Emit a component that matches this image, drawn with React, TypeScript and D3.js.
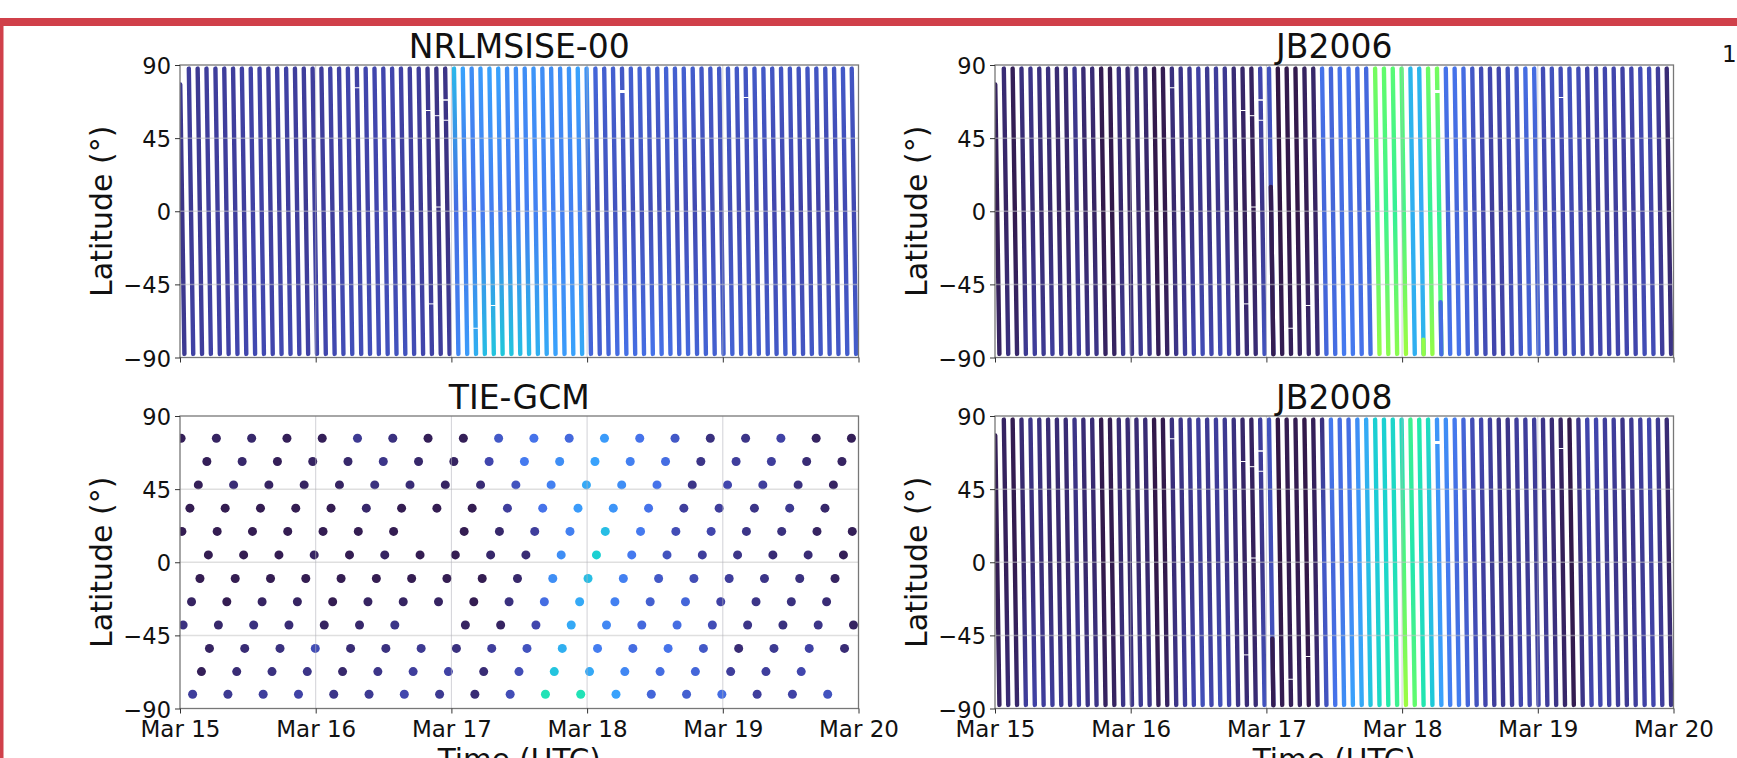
import React, { useRef, useEffect } from 'react';
import * as d3 from 'd3';

const tickDays = [0, 1, 2, 3, 4, 5];
const tickLabels = ['Mar 15', 'Mar 16', 'Mar 17', 'Mar 18', 'Mar 19', 'Mar 20'];
const latTicks = [-90, -45, 0, 45, 90];

// orbit time at the north end of each pass, days after Mar 15
const orbitTimes = [
  0, 0.065, 0.13, 0.195, 0.261, 0.326, 0.391, 0.456, 0.521, 0.586,
  0.651, 0.716, 0.782, 0.847, 0.912, 0.977, 1.042, 1.107, 1.172, 1.237,
  1.303, 1.368, 1.433, 1.498, 1.563, 1.628, 1.693, 1.759, 1.824, 1.889,
  1.954, 2.019, 2.084, 2.149, 2.214, 2.28, 2.345, 2.41, 2.475, 2.54,
  2.605, 2.67, 2.735, 2.801, 2.866, 2.931, 2.996, 3.061, 3.126, 3.191,
  3.257, 3.322, 3.387, 3.452, 3.517, 3.582, 3.647, 3.712, 3.778, 3.843,
  3.908, 3.973, 4.038, 4.103, 4.168, 4.233, 4.299, 4.364, 4.429, 4.494,
  4.559, 4.624, 4.689, 4.755, 4.82, 4.885, 4.95,
];

const nrlNorth = [
  .045, .05, .045, .05, .05, .05, .05, .055, .055, .055,
  .05, .055, .055, .05, .05, .05, .05, .055, .055, .06,
  .055, .06, .06, .06, .06, .055, .05, .05, .045, .04,
  .04, .23, .2, .17, .19, .2, .2, .17, .17, .17,
  .18, .17, .17, .17, .18, .2, .18, .11, .1, .1,
  .09, .1, .105, .1, .1, .105, .1, .1, .095, .09,
  .09, .09, .095, .09, .085, .09, .09, .085, .085, .085,
  .08, .085, .085, .085, .085, .09, .085,
];
const nrlMid = [
  .04, .045, .045, .05, .05, .05, .05, .05, .055, .055,
  .05, .05, .05, .05, .045, .05, .05, .05, .055, .055,
  .055, .055, .06, .06, .055, .05, .05, .045, .04, .035,
  .035, .12, .12, .13, .14, .145, .14, .14, .145, .145,
  .15, .15, .15, .15, .15, .15, .09, .075, .08, .08,
  .08, .075, .075, .07, .07, .08, .07, .07, .065, .07,
  .07, .065, .07, .065, .07, .065, .065, .06, .06, .06,
  .055, .055, .055, .055, .06, .065, .065,
];
const nrlSouth = [
  .045, .055, .05, .055, .055, .055, .06, .06, .065, .065,
  .06, .065, .065, .06, .055, .06, .06, .065, .07, .075,
  .07, .075, .075, .08, .08, .08, .07, .06, .055, .05,
  .05, .16, .19, .22, .24, .25, .255, .25, .24, .235,
  .22, .21, .2, .19, .2, .21, .11, .1, .11, .12,
  .125, .12, .12, .13, .125, .12, .11, .115, .105, .105,
  .1, .1, .105, .1, .1, .095, .095, .09, .095, .09,
  .085, .09, .09, .09, .09, .095, .095,
];

const jb06North = [
  .02, .03, .015, .035, .04, .035, .035, .03, .03, .045,
  .03, .03, .012, .012, .035, .03, .035, .03, .01, .012,
  .035, .04, .045, .055, .045, .05, .045, .03, .025, .02,
  .06, .08, .005, .01, .01, .02, .025, .13, .11, .13,
  .13, .12, .115, .42, .4, .39, .39, .23, .23, .41,
  .42, .13, .13, .12, .09, .07, .06, .06, .08, .09,
  .12, .12, .07, .08, .07, .08, .07, .06, .06, .06,
  .06, .055, .06, .07, .07, .05, .03,
];
const jb06Mid = [
  .012, .02, .01, .025, .03, .025, .025, .02, .02, .035,
  .02, .02, .008, .008, .025, .02, .025, .02, .006, .008,
  .025, .03, .035, .04, .035, .04, .035, .02, .015, .012,
  .04, .07, .004, .006, .006, .012, .02, .11, .11, .12,
  .12, .11, .11, .37, .36, .35, .37, .22, .21, .35,
  .35, .11, .11, .1, .075, .06, .05, .05, .06, .07,
  .09, .09, .06, .065, .06, .065, .06, .05, .05, .05,
  .05, .05, .05, .055, .055, .04, .02,
];
const jb06South = [
  .02, .035, .025, .045, .05, .045, .05, .045, .04, .05,
  .04, .04, .02, .02, .045, .04, .045, .04, .015, .02,
  .04, .05, .06, .07, .06, .07, .06, .04, .03, .03,
  .08, .09, .012, .015, .02, .025, .03, .11, .12, .14,
  .14, .13, .12, .45, .44, .44, .46, .22, .23, .45,
  .4, .13, .13, .11, .085, .07, .06, .06, .08, .09,
  .11, .11, .08, .08, .07, .08, .07, .06, .06, .06,
  .06, .06, .06, .07, .07, .05, .04,
];

const jb08North = [
  .015, .02, .012, .03, .04, .035, .03, .03, .03, .04,
  .03, .03, .01, .012, .03, .03, .03, .03, .008, .01,
  .035, .04, .045, .05, .045, .05, .045, .035, .025, .02,
  .05, .08, .005, .012, .012, .008, .015, .035, .14, .12,
  .12, .17, .21, .27, .27, .28, .29, .36, .33, .3,
  .18, .17, .14, .11, .07, .06, .05, .04, .04, .05,
  .05, .05, .04, .03, .02, .008, .04, .06, .06, .05,
  .05, .04, .045, .05, .06, .045, .03,
];
const jb08Mid = [
  .012, .015, .01, .025, .03, .03, .025, .025, .025, .035,
  .025, .025, .008, .01, .025, .025, .025, .025, .006, .008,
  .03, .035, .04, .045, .04, .045, .04, .03, .02, .015,
  .04, .07, .004, .01, .01, .006, .02, .09, .11, .12,
  .15, .19, .24, .26, .28, .3, .38, .32, .28, .23,
  .18, .14, .11, .085, .06, .05, .045, .04, .04, .045,
  .045, .045, .04, .03, .015, .008, .035, .05, .05, .045,
  .04, .035, .04, .045, .05, .04, .02,
];
const jb08South = [
  .02, .03, .025, .05, .055, .05, .05, .045, .04, .05,
  .04, .04, .02, .02, .04, .04, .045, .04, .015, .02,
  .04, .05, .06, .075, .06, .075, .06, .04, .03, .03,
  .08, .085, .012, .015, .02, .01, .03, .08, .13, .17,
  .2, .21, .25, .29, .33, .36, .46, .4, .32, .26,
  .2, .15, .15, .11, .08, .06, .05, .045, .05, .06,
  .06, .06, .05, .04, .025, .012, .04, .06, .06, .055,
  .05, .045, .05, .055, .06, .05, .04,
];

// stretches of a pass where the value jumps: [orbit, lat from, lat to, value]
const jb06Patches = [[31, 15, -88, .012], [48, -79, -88, .45], [50, -56, -88, .12]];
const jb08Patches = [[31, -47, -88, .012]];

// missing samples along the passes
const gapOrbits = [20, 28, 29, 30, 30, 29, 28, 35, 33, 50, 64];
const gapLats = [76, 62, 58.8, 68.5, 56, 2.6, -57, -58, -72, 73.7, 70];
const gapSizes = [1, 1, 1, 1.6, 1, 1, 1, 1, 1, 3, 1];

const tieLats = [76.3, 62, 47.6, 33.3, 19, 4.5, -10, -24.3, -38.6, -53, -67.3, -81.2];
const tieTimes = [
  [.008, .268, .528, .788, 1.048, 1.308, 1.568, 1.828, 2.088, 2.348, 2.608, 2.868, 3.128, 3.388, 3.648, 3.908, 4.168, 4.428, 4.688, 4.948],
  [.198, .458, .718, .978, 1.238, 1.498, 1.758, 2.018, 2.278, 2.538, 2.798, 3.058, 3.318, 3.578, 3.838, 4.098, 4.358, 4.618, 4.878],
  [.135, .395, .655, .915, 1.175, 1.435, 1.695, 1.955, 2.215, 2.475, 2.735, 2.995, 3.255, 3.515, 3.775, 4.035, 4.295, 4.555, 4.815],
  [.073, .333, .593, .853, 1.113, 1.373, 1.633, 1.893, 2.153, 2.413, 2.673, 2.933, 3.193, 3.453, 3.713, 3.973, 4.233, 4.493, 4.753],
  [.014, .274, .534, .794, 1.054, 1.314, 1.574, 2.094, 2.354, 2.614, 2.874, 3.134, 3.394, 3.654, 3.914, 4.174, 4.434, 4.694, 4.954],
  [.209, .469, .729, .989, 1.249, 1.509, 1.769, 2.029, 2.289, 2.549, 2.809, 3.069, 3.329, 3.589, 3.849, 4.109, 4.369, 4.629, 4.889],
  [.147, .407, .667, .927, 1.187, 1.447, 1.707, 1.967, 2.227, 2.487, 2.747, 3.007, 3.267, 3.527, 3.787, 4.047, 4.307, 4.567, 4.827],
  [.085, .345, .605, .865, 1.125, 1.385, 1.645, 1.905, 2.165, 2.425, 2.685, 2.945, 3.205, 3.465, 3.725, 3.985, 4.245, 4.505, 4.765],
  [.023, .283, .543, .803, 1.063, 1.323, 1.583, 2.103, 2.363, 2.623, 2.883, 3.143, 3.403, 3.663, 3.923, 4.183, 4.443, 4.703, 4.963],
  [.217, .477, .737, .997, 1.257, 1.517, 1.777, 2.037, 2.297, 2.557, 2.817, 3.077, 3.337, 3.597, 3.857, 4.117, 4.377, 4.637, 4.897],
  [.158, .418, .678, .938, 1.198, 1.458, 1.718, 1.978, 2.238, 2.498, 2.758, 3.018, 3.278, 3.538, 3.798, 4.058, 4.318, 4.578],
  [.093, .353, .613, .873, 1.133, 1.393, 1.653, 1.913, 2.173, 2.433, 2.693, 2.953, 3.213, 3.473, 3.733, 3.993, 4.253, 4.513, 4.773],
];
const tieValues = [
  [.015, .02, .025, .015, .015, .045, .035, .015, .015, .09, .13, .115, .19, .13, .09, .035, .04, .055, .02, .015],
  [.015, .025, .015, .02, .025, .04, .025, .02, .06, .14, .17, .2, .15, .12, .04, .05, .05, .03, .02],
  [.015, .03, .02, .02, .02, .035, .03, .02, .03, .08, .15, .21, .17, .13, .04, .06, .05, .035, .02],
  [.012, .012, .012, .012, .012, .025, .012, .012, .012, .05, .13, .19, .18, .13, .05, .05, .04, .045, .025],
  [.012, .012, .012, .012, .012, .012, .012, .012, .025, .05, .15, .24, .14, .07, .06, .04, .035, .02, .015],
  [.012, .012, .012, .02, .012, .02, .012, .012, .025, .03, .17, .27, .14, .08, .05, .04, .03, .03, .015],
  [.012, .012, .012, .012, .012, .012, .012, .012, .012, .025, .17, .24, .15, .09, .07, .05, .04, .035, .02],
  [.02, .012, .02, .02, .012, .02, .02, .02, .012, .035, .12, .21, .15, .1, .11, .055, .04, .035, .03],
  [.035, .025, .035, .03, .02, .025, .04, .02, .02, .06, .21, .16, .115, .12, .07, .04, .035, .04, .02],
  [.02, .03, .035, .07, .03, .035, .045, .035, .05, .08, .22, .145, .12, .13, .09, .03, .045, .055, .03],
  [.015, .03, .035, .04, .025, .04, .05, .055, .03, .07, .25, .21, .16, .12, .11, .05, .05, .06],
  [.05, .045, .05, .055, .04, .045, .06, .045, .03, .07, .31, .31, .2, .11, .1, .12, .05, .055, .08],
];

const turboStops = [0, .058, .133, .2, .267, .333, .4, .467, .533];
const turboColors = ['#30123b', '#4145ab', '#4675ed', '#39a2fc', '#1bcfd4', '#24eca6', '#61fc6c', '#a4fc3c', '#d1e834'];
const colorScale = d3.scaleLinear<string>().domain(turboStops).range(turboColors);

const FONT = 'DejaVu Sans';
const topLat = 87.8;
const passLength = 0.0325; // days from north end to south end

const Axes = ({ x, y, showDates }: any) => {
  const xRef = useRef<SVGGElement>(null);
  const yRef = useRef<SVGGElement>(null);

  useEffect(() => {
    const xAxis = d3.axisBottom(x)
      .tickValues(tickDays)
      .tickSize(5)
      .tickFormat((d: any, i: number) => (showDates ? tickLabels[i] : ''));
    const yAxis = d3.axisLeft(y)
      .tickValues(latTicks)
      .tickSize(5)
      .tickFormat((d: any) => String(d).replace('-', '\u2212'));

    const gx = d3.select(xRef.current).call(xAxis as any);
    const gy = d3.select(yRef.current).call(yAxis as any);
    gx.select('.domain').remove();
    gy.select('.domain').remove();
    gx.selectAll('line').attr('stroke', '#333').attr('stroke-width', 1);
    gy.selectAll('line').attr('stroke', '#333').attr('stroke-width', 1);
    gx.selectAll('text')
      .attr('font-family', FONT).attr('font-size', 23).attr('fill', '#111')
      .attr('dy', '0.9em');
    gy.selectAll('text')
      .attr('font-family', FONT).attr('font-size', 22.5).attr('fill', '#111')
      .attr('x', -9).attr('dy', '0.38em');
  }, [x, y, showDates]);

  return (
    <g>
      <g ref={xRef} transform={`translate(0,${y.range()[0]})`} />
      <g ref={yRef} transform={`translate(${x.range()[0]},0)`} />
    </g>
  );
};

const Panel = ({ id, title, left, top, showDates, children }: any) => {
  const [x0, x1] = [left, left + 678.5];
  const [y0, y1] = [top, top + 292.5];
  const x = d3.scaleLinear().domain([0, 5]).range([x0, x1]);
  const y = d3.scaleLinear().domain([-90, 90]).range([y1, y0]);

  return (
    <g>
      <clipPath id={`clip-${id}`}>
        <rect x={x0} y={y0} width={x1 - x0} height={y1 - y0} />
      </clipPath>
      <g clipPath={`url(#clip-${id})`}>{children(x, y, id)}</g>
      {latTicks.slice(1, 4).map((d) => (
        <line key={d} x1={x0} x2={x1} y1={y(d)} y2={y(d)} stroke="#c4c4c4" strokeOpacity={0.55} strokeWidth={1.5} />
      ))}
      {tickDays.slice(1, 5).map((d) => (
        <line key={d} x1={x(d)} x2={x(d)} y1={y0} y2={y1} stroke="#b4b4bc" strokeOpacity={0.6} strokeWidth={1} />
      ))}
      <rect x={x0} y={y0} width={x1 - x0} height={y1 - y0} fill="none" stroke="#777" strokeWidth={1.3} />
      <Axes x={x} y={y} showDates={showDates} />
      <text x={(x0 + x1) / 2} y={y0 - 7.5} textAnchor="middle" fontFamily={FONT} fontSize={33} fill="#111">{title}</text>
      <text
        transform={`translate(${x0 - 68},${(y0 + y1) / 2}) rotate(-90)`}
        textAnchor="middle"
        fontFamily={FONT}
        fontSize={30}
        fill="#111"
      >
        Latitude (°)
      </text>
      {showDates && (
        <text x={(x0 + x1) / 2} y={y1 + 61.5} textAnchor="middle" fontFamily={FONT} fontSize={29.5} fill="#111">Time (UTC)</text>
      )}
    </g>
  );
};

const passX = (x: any, orbit: number, lat: number) =>
  x(orbitTimes[orbit] + ((topLat - lat) / (2 * topLat)) * passLength);

const stripes = (north: number[], mid: number[], south: number[], patches: number[][]) => (x: any, y: any, id: string) => (
  <g>
    <defs>
      {orbitTimes.map((t, i) => (
        <linearGradient key={i} id={`${id}-${i}`} gradientUnits="userSpaceOnUse" x1={0} x2={0} y1={y(topLat)} y2={y(-topLat)}>
          <stop offset="0" stopColor={colorScale(north[i])} />
          <stop offset="0.5" stopColor={colorScale(mid[i])} />
          <stop offset="1" stopColor={colorScale(south[i])} />
        </linearGradient>
      ))}
    </defs>
    {orbitTimes.map((t, i) => {
      const startLat = i === 0 ? 78 : topLat;
      return (
        <line
          key={i}
          x1={passX(x, i, startLat)}
          x2={passX(x, i, -topLat)}
          y1={y(startLat)}
          y2={y(-topLat)}
          stroke={`url(#${id}-${i})`}
          strokeWidth={4.4}
          strokeLinecap="round"
        />
      );
    })}
    {patches.map(([orbit, from, to, value], i) => (
      <line
        key={i}
        x1={passX(x, orbit, from)}
        x2={passX(x, orbit, to)}
        y1={y(from)}
        y2={y(to)}
        stroke={colorScale(value)}
        strokeWidth={4.4}
        strokeLinecap="round"
      />
    ))}
    {gapOrbits.map((orbit, i) => (
      <line
        key={i}
        x1={passX(x, orbit, gapLats[i]) - 2.8}
        x2={passX(x, orbit, gapLats[i]) + 2.8}
        y1={y(gapLats[i])}
        y2={y(gapLats[i])}
        stroke="#fff"
        strokeWidth={gapSizes[i]}
      />
    ))}
  </g>
);

const tieDots = (x: any, y: any) => (
  <g>
    {tieLats.map((lat, r) =>
      tieTimes[r].map((t, i) => (
        <circle key={`${r}-${i}`} cx={x(t)} cy={y(lat)} r={4.5} fill={colorScale(tieValues[r][i])} />
      ))
    )}
  </g>
);

const App = () => (
  <svg width={1737} height={758} style={{ position: 'absolute', left: 0, top: 0, display: 'block', background: '#fff' }}>
    <rect x={0} y={18} width={1737} height={8} fill="#d0404a" />
    <rect x={0} y={18} width={3.5} height={740} fill="#d0404a" />
    <Panel id="nrl" title="NRLMSISE-00" left={180} top={65} showDates={false}>
      {stripes(nrlNorth, nrlMid, nrlSouth, [])}
    </Panel>
    <Panel id="jb06" title="JB2006" left={995} top={65} showDates={false}>
      {stripes(jb06North, jb06Mid, jb06South, jb06Patches)}
    </Panel>
    <Panel id="tie" title="TIE-GCM" left={180} top={416} showDates>
      {tieDots}
    </Panel>
    <Panel id="jb08" title="JB2008" left={995} top={416} showDates>
      {stripes(jb08North, jb08Mid, jb08South, jb08Patches)}
    </Panel>
    <text x={1722} y={62} fontFamily={FONT} fontSize={23} fill="#111">1</text>
  </svg>
);

export default App;
